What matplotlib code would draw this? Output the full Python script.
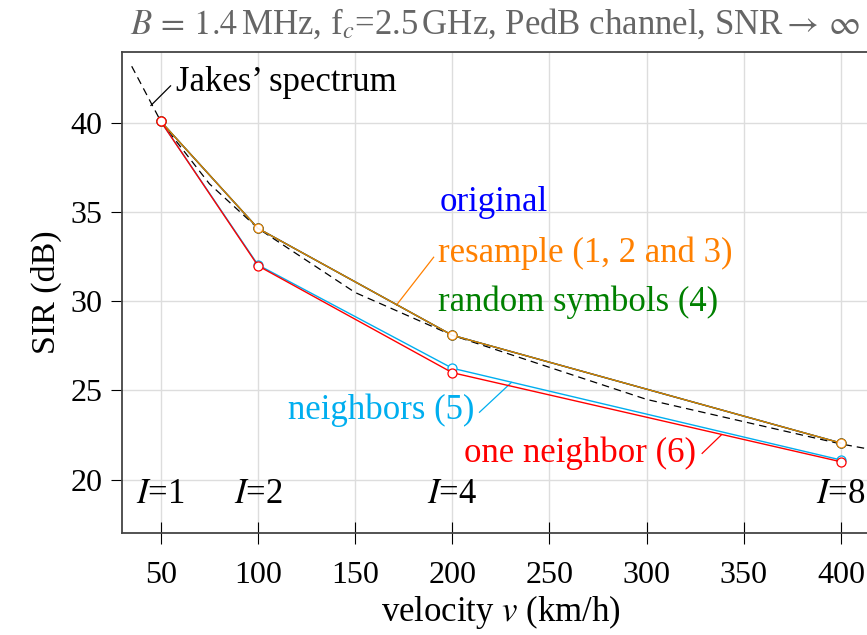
import numpy as np
import matplotlib
matplotlib.use("Agg")
import matplotlib.pyplot as plt

plt.rcParams['font.family'] = ['Liberation Serif', 'DejaVu Serif']
plt.rcParams['mathtext.fontset'] = 'stix'

# velocities (km/h) and measured SIR (dB)
velocity = [50, 100, 200, 400]
sir_original = [40.1, 34.1, 28.1, 22.05]
sir_random = [40.1, 34.1, 28.1, 22.05]
sir_resample = [40.1, 34.1, 28.1, 22.05]
sir_neighbors = [40.1, 32.05, 26.25, 21.1]
sir_one_neighbor = [40.1, 32.0, 26.0, 21.0]

# Jakes' spectrum reference curve
jakes_v = [35, 50, 75, 100, 150, 200, 300, 400, 420]
jakes_sir = [43.2, 40.1, 36.6, 34.1, 30.5, 28.1, 24.5, 22.0, 21.6]

interp_labels = ['$I$=1', '$I$=2', '$I$=4', '$I$=8']

C_BLUE = '#0000ff'
C_ORANGE = '#ff8000'
C_GREEN = '#008000'
C_CYAN = '#00aeef'
C_RED = '#ff0000'

fig = plt.figure(figsize=(8.67, 6.35), dpi=100)
ax = fig.add_axes([0.1407, 0.1606, 0.874, 0.7575])

ax.plot(jakes_v, jakes_sir, color='black', lw=0.9, dashes=(6, 4), zorder=2)

mk = dict(marker='o', ms=6.5, mfc='white', mew=0.9, lw=1.0, zorder=3)
ax.plot(velocity, sir_neighbors, color=C_CYAN, **mk)
ax.plot(velocity, sir_original, color=C_BLUE, **mk)
ax.plot(velocity, sir_random, color=C_GREEN, **mk)
ax.plot(velocity, sir_resample, color=C_ORANGE, alpha=0.85, **mk)
ax.plot(velocity, sir_one_neighbor, color=C_RED, **mk)

ax.set_xlim(30, 420)
ax.set_ylim(17, 44)
ax.set_xticks([50, 100, 150, 200, 250, 300, 350, 400])
ax.set_yticks([20, 25, 30, 35, 40])
ax.grid(True, color='#dddddd', lw=1.0)
ax.set_axisbelow(True)
ax.tick_params(axis='x', direction='inout', length=16, width=0.8, pad=12, labelsize=23)
ax.tick_params(axis='y', direction='out', length=8, width=0.8, pad=6, labelsize=23)
for s in ax.spines.values():
    s.set_color('#444444')
    s.set_linewidth(1.3)

ax.set_xlabel('velocity $v$ (km/h)', fontsize=25, labelpad=2)
ax.set_ylabel('SIR (dB)', fontsize=24.5, labelpad=6)
fig.text(130 / 867, 1 - 24 / 635,
         r'$B\,=\,1.4\,$MHz, f$_c$=2.5$\,$GHz, PedB channel, SNR$\rightarrow\,\infty$',
         fontsize=25, color='#666666', ha='left', va='center')

for v, lab in zip(velocity, interp_labels):
    ax.text(v, 19.15, lab, fontsize=25, ha='center', va='center')

# labels with pin lines
fs = 25
ax.text(57.8, 42.3, 'Jakes\u2019 spectrum', fontsize=fs, ha='left', va='center')
ax.plot([44.9, 55.0], [41.0, 42.1], color='black', lw=0.9)

ax.text(193.4, 35.57, 'original', fontsize=fs, color=C_BLUE, ha='left', va='center')
ax.text(192.4, 32.71, 'resample (1, 2 and 3)', fontsize=fs, color=C_ORANGE, ha='left', va='center')
ax.plot([171.3, 190.4], [29.8, 32.48], color=C_ORANGE, lw=0.9)
ax.text(192.4, 29.96, 'random symbols (4)', fontsize=fs, color=C_GREEN, ha='left', va='center')

ax.text(211.4, 23.89, 'neighbors (5)', fontsize=fs, color=C_CYAN, ha='right', va='center')
ax.plot([214.0, 230.4], [23.78, 25.45], color=C_CYAN, lw=0.9)

ax.text(325.5, 21.5, 'one neighbor (6)', fontsize=fs, color=C_RED, ha='right', va='center')
ax.plot([328.6, 338.4], [21.47, 22.5], color=C_RED, lw=0.9)

fig.savefig('out.png', dpi=100)
